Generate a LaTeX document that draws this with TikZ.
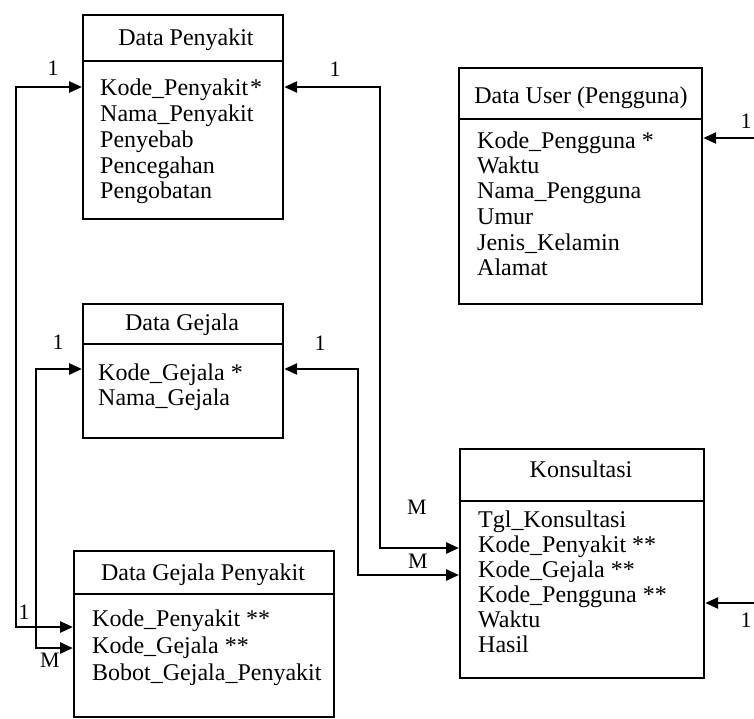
\documentclass[tikz,border=0pt]{standalone}
\usepackage{fontspec}
\setmainfont{Liberation Serif}
\usetikzlibrary{arrows.meta}
\begin{document}
\begin{tikzpicture}[x=1pt,y=-1pt,
  box/.style={draw, line width=2.2pt, inner sep=0pt, anchor=north west},
  row/.style={anchor=base west, inner sep=0pt, font=\fontsize{24}{25}\selectfont},
  ttl/.style={anchor=base, inner sep=0pt, font=\fontsize{24}{25}\selectfont},
  card/.style={inner sep=0pt, font=\fontsize{22}{22}\selectfont},
  conn/.style={line width=2.6pt, {Triangle[length=13pt,width=11pt]}-{Triangle[length=13pt,width=11pt]}},
  conn1/.style={line width=2.6pt, -{Triangle[length=13pt,width=11pt]}}]
\useasboundingbox (0,0) rectangle (754,718);
\fill[white] (0,0) rectangle (754,718);

% Data Penyakit
\node[box, minimum width=200pt, minimum height=46pt] (penH) at (82,14) {};
\node[box, minimum width=200pt, minimum height=158pt] (penB) at (82,60) {};
\node[ttl] (penT) at (186,45) {Data Penyakit};
\node[row] (pen1) at (100,95) {Kode\_Penyakit\hspace{2pt}*};
\node[row] (pen2) at (100,121) {Nama\_Penyakit};
\node[row] (pen3) at (100,147) {Penyebab};
\node[row] (pen4) at (100,173) {Pencegahan};
\node[row] (pen5) at (100,198) {Pengobatan};

% Data User (Pengguna)
\node[box, minimum width=243pt, minimum height=51pt] (usrH) at (458,67) {};
\node[box, minimum width=243pt, minimum height=185pt] (usrB) at (458,118) {};
\node[ttl] (usrT) at (581,103) {Data User (Pengguna)};
\node[row] (usr1) at (477,148) {Kode\_Pengguna *};
\node[row] (usr2) at (477,173) {Waktu};
\node[row] (usr3) at (477,198) {Nama\_Pengguna};
\node[row] (usr4) at (477,224) {Umur};
\node[row] (usr5) at (477,250) {Jenis\_Kelamin};
\node[row] (usr6) at (477,275) {Alamat};

% Data Gejala
\node[box, minimum width=200pt, minimum height=40pt] (gejH) at (82,303) {};
\node[box, minimum width=200pt, minimum height=94pt] (gejB) at (82,343) {};
\node[ttl] (gejT) at (182,330) {Data Gejala};
\node[row] (gej1) at (98,380) {Kode\_Gejala *};
\node[row] (gej2) at (98,405) {Nama\_Gejala};

% Konsultasi
\node[box, minimum width=244pt, minimum height=52pt] (konH) at (459,448) {};
\node[box, minimum width=244pt, minimum height=177pt] (konB) at (459,500) {};
\node[ttl] (konT) at (581,477) {Konsultasi};
\node[row] (kon1) at (478,527) {Tgl\_Konsultasi};
\node[row] (kon2) at (478,552) {Kode\_Penyakit **};
\node[row] (kon3) at (478,577) {Kode\_Gejala **};
\node[row] (kon4) at (478,602) {Kode\_Pengguna **};
\node[row] (kon5) at (478,627) {Waktu};
\node[row] (kon6) at (478,652) {Hasil};

% Data Gejala Penyakit
\node[box, minimum width=260pt, minimum height=43pt] (dgpH) at (73,550) {};
\node[box, minimum width=260pt, minimum height=123pt] (dgpB) at (73,593) {};
\node[ttl] (dgpT) at (203,580) {Data Gejala Penyakit};
\node[row] (dgp1) at (92,626) {Kode\_Penyakit **};
\node[row] (dgp2) at (92,653) {Kode\_Gejala **};
\node[row] (dgp3) at (92,680) {Bobot\_Gejala\_Penyakit};

% connectors
\draw[conn] (penB.west |- 0,87) -| (16,300) |- (dgpB.west |- 0,627);
\draw[conn] (gejB.west |- 0,369) -| (36,500) |- (dgpB.west |- 0,648);
\draw[conn] (penB.east |- 0,87) -| (380,300) |- (konB.west |- 0,548);
\draw[conn] (gejB.east |- 0,369) -| (358,450) |- (konB.west |- 0,575);
\coordinate (edgeA) at (754,138);
\coordinate (edgeB) at (754,603);
\draw[conn1] (edgeA) -- (usrB.east |- edgeA);
\draw[conn1] (edgeB) -- (konB.east |- edgeB);

% cardinalities
\node[card] (c1) at (53,68) {1};
\node[card] (c2) at (335,69) {1};
\node[card] (c3) at (58,342) {1};
\node[card] (c4) at (320,343) {1};
\node[card] (c5) at (24,612) {1};
\node[card] (c6) at (50,660) {M};
\node[card] (c7) at (417,507) {M};
\node[card] (c8) at (418,561) {M};
\node[card] (c9) at (746,121) {1};
\node[card] (c10) at (746,620) {1};
\end{tikzpicture}
\end{document}
